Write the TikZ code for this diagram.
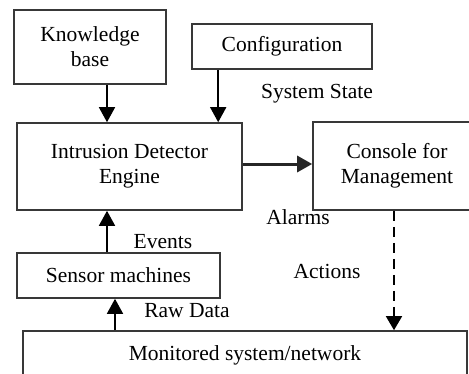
\documentclass[tikz,border=0pt]{standalone}
\usepackage{fontspec}
\setmainfont{Liberation Serif}
\usetikzlibrary{arrows.meta}
\definecolor{boxline}{HTML}{383838}
\tikzset{
  box/.style={draw=boxline, line width=1.6pt, inner sep=0pt, align=center,
              font=\fontsize{21.5}{25}\selectfont},
  lbl/.style={inner sep=0pt, font=\fontsize{21.5}{25}\selectfont},
  arr/.style={line width=1.6pt, -{Triangle[length=15pt,width=16pt]}},
  thickarr/.style={draw=black!85, line width=3pt, -{Triangle[length=15pt,width=16pt]}},
  dasharr/.style={line width=1.6pt, dash pattern=on 10pt off 6pt, -{Triangle[length=14pt,width=16pt]}}
}
\begin{document}
\begin{tikzpicture}[x=1pt,y=-1pt]
\useasboundingbox (0,0) rectangle (469,373);
\node[box, minimum width=152pt, minimum height=74pt] (kb) at (90,47) {Knowledge\\base};
\node[box, minimum width=180pt, minimum height=45pt] (cfg) at (282,46.5) {Configuration};
\node[box, minimum width=225pt, minimum height=87pt] (ide) at (129.5,166.5) {Intrusion Detector\\Engine};
\node[box, minimum width=168pt, minimum height=88pt] (con) at (397,166) {Console for\\Management};
\node[box, minimum width=203pt, minimum height=45pt] (sens) at (118.5,275.5) {Sensor machines};
\node[box, minimum width=444pt, minimum height=48pt] (mon) at (245,355) {Monitored system/network};

\node[lbl] (ss) at (317,94) {System State};
\node[lbl] (al) at (298,217) {Alarms};
\node[lbl] (ac) at (327,271) {Actions};
\node[lbl] (ev) at (163,242) {Events};
\node[lbl] (rd) at (187,311) {Raw Data};

\draw[arr] ([xshift=17pt]kb.south) -- ([xshift=17pt]kb.south |- ide.north);
\draw[arr] ([xshift=27pt]cfg.south west) -- ([xshift=27pt]cfg.south west |- ide.north);
\draw[thickarr] ([yshift=2.5pt]ide.east) -- ([yshift=2.5pt]ide.east -| con.west);
\draw[arr] ([xshift=-11.5pt]sens.north) -- ([xshift=-11.5pt]sens.north |- ide.south);
\draw[arr] ([xshift=-130pt]mon.north) -- ([xshift=-130pt]mon.north |- sens.south);
\draw[dasharr] ([xshift=-3pt]con.south) -- ([xshift=-3pt]con.south |- mon.north);
\end{tikzpicture}
\end{document}
